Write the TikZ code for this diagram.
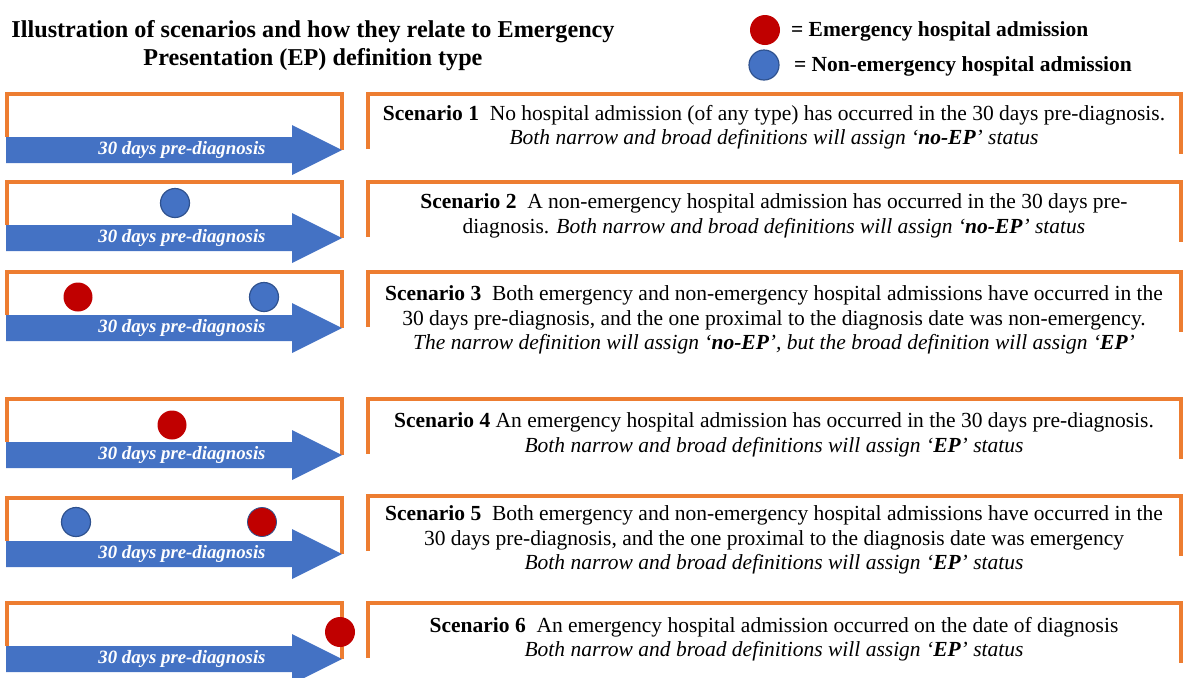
\documentclass[tikz,border=0pt]{standalone}
\usepackage{fontspec}
\setmainfont{Liberation Serif}
\usepackage{tikz}
\definecolor{eporange}{HTML}{ED7D31}
\definecolor{epblue}{HTML}{4472C4}
\definecolor{epred}{HTML}{C00000}
\definecolor{epedge}{HTML}{2F528F}

\begin{document}
\begin{tikzpicture}[x=0.5pt,y=-0.5pt,
  frame/.style={draw=eporange,line width=2pt},
  emerg/.style={circle,fill=epred,minimum size=14.5pt,inner sep=0pt},
  nonemerg/.style={circle,fill=epblue,draw=epedge,semithick,minimum size=14.5pt,inner sep=0pt},
  days/.style={text=white,inner sep=0pt,font=\fontsize{9.4}{11}\selectfont\bfseries\itshape},
  scen/.style={align=center,inner sep=0pt,font=\fontsize{10.75}{12.2}\selectfont}]
\useasboundingbox (0,0) rectangle (1183,677);
% titolo e legenda
\node[align=center,font=\fontsize{12.1}{14}\selectfont\bfseries] (title) at (313,46)
  {Illustration of scenarios and how they relate to Emergency\\Presentation (EP) definition type};
\node[emerg,minimum size=15pt] (legE) at (765,30) {};
\node[nonemerg,minimum size=15pt] (legN) at (764,65) {};
\node[anchor=west,font=\fontsize{10.75}{12}\selectfont\bfseries] (legEtxt) at (784,31) {= Emergency hospital admission};
\node[anchor=west,font=\fontsize{10.75}{12}\selectfont\bfseries] (legNtxt) at (787,66) {= Non-emergency hospital admission};
% frecce dei 30 giorni
\foreach \c [count=\n] in {150,238,328,455,554,659} {
   \draw[frame] (7,\c-13) -- (7,\c-56) -- (342,\c-56) -- (342,\c);
   \fill[epblue] (6,\c-13) -- (292,\c-13) -- (292,\c-25) -- (342,\c)
   -- (292,\c+25) -- (292,\c+13) -- (6,\c+13) -- cycle;
   \node[days] (days\n) at (182,\c) {30 days pre-diagnosis};
}
% riquadri degli scenari
\foreach \t in {94,182,272,399,496,603} {
   \draw[frame] (368,\t+55) -- (368,\t) -- (1181,\t) -- (1181,\t+60);
}
% ricoveri
\node[nonemerg] (s2a) at (175,203) {};
\node[emerg] (s3a) at (78,297) {}; \node[nonemerg] (s3b) at (264,297) {};
\node[emerg] (s4a) at (172,425) {};
\node[nonemerg] (s5a) at (76,522) {}; \node[emerg,draw=epedge] (s5b) at (262,522) {};
\node[emerg,minimum size=15pt] (s6a) at (340,632) {};
% testi
\node[scen] (sc1) at (774,127) {\textbf{Scenario 1}\ \ No hospital admission (of any type) has occurred in the 30 days pre-diagnosis.\\
   \textit{Both narrow and broad definitions will assign ‘\textbf{no-EP}’ status}};
\node[scen] (sc2) at (774,216) {\textbf{Scenario 2}\ \ A non-emergency hospital admission has occurred in the 30 days pre-\\
   diagnosis. \textit{Both narrow and broad definitions will assign ‘\textbf{no-EP}’ status}};
\node[scen] (sc3) at (774,320) {\textbf{Scenario 3}\ \ Both emergency and non-emergency hospital admissions have occurred in the\\
   30 days pre-diagnosis, and the one proximal to the diagnosis date was non-emergency.\\
   \textit{The narrow definition will assign ‘\textbf{no-EP}’, but the broad definition will assign ‘\textbf{EP}’}};
\node[scen] (sc4) at (774,435) {\textbf{Scenario 4} An emergency hospital admission has occurred in the 30 days pre-diagnosis.\\
   \textit{Both narrow and broad definitions will assign ‘\textbf{EP}’ status}};
\node[scen] (sc5) at (774,540) {\textbf{Scenario 5}\ \ Both emergency and non-emergency hospital admissions have occurred in the\\
   30 days pre-diagnosis, and the one proximal to the diagnosis date was emergency\\
   \textit{Both narrow and broad definitions will assign ‘\textbf{EP}’ status}};
\node[scen] (sc6) at (774,639) {\textbf{Scenario 6}\ \ An emergency hospital admission occurred on the date of diagnosis\\
   \textit{Both narrow and broad definitions will assign ‘\textbf{EP}’ status}};
\end{tikzpicture}
\end{document}
